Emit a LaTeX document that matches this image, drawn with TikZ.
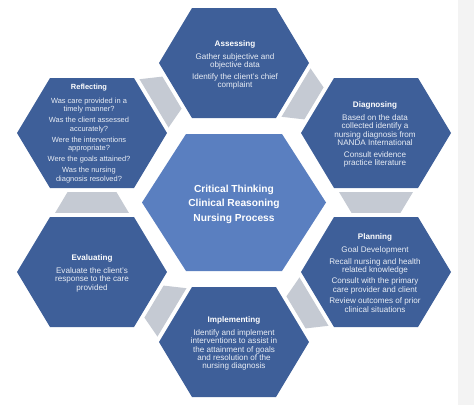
\documentclass[tikz,border=0pt]{standalone}
\usepackage{fontspec}
\setmainfont{Liberation Sans}
\usetikzlibrary{calc}
\definecolor{hexblue}{HTML}{3E5F99}
\definecolor{cenblue}{HTML}{5A7FC0}
\definecolor{trapgray}{HTML}{C5CAD3}
\definecolor{bodytxt}{HTML}{E8EDF5}
\definecolor{sideband}{HTML}{F3F3F3}

\newcommand\mkhex[6]{%
 \coordinate (#1) at (#2,#3);
 \coordinate (#1-1) at (#2+#4,#3);
 \coordinate (#1-2) at (#2+#5,#3+#6);
 \coordinate (#1-3) at (#2-#5,#3+#6);
 \coordinate (#1-4) at (#2-#4,#3);
 \coordinate (#1-5) at (#2-#5,#3-#6);
 \coordinate (#1-6) at (#2+#5,#3-#6);
}
\newcommand\drawhex[2]{\fill[#2] (#1-1)--(#1-2)--(#1-3)--(#1-4)--(#1-5)--(#1-6)--cycle;}
\newcommand\gtrap[3]{%
 \fill[trapfill] ($0.80*(#1) + 0.06*(#2) + 0.14*(#3)$)
   -- ($0.94*(#2) + 0.14*(#3) - 0.08*(#1)$)
   -- ($0.791*(#2) + 0.86*(#3) - 0.651*(#1)$)
   -- ($0.209*(#2) + 0.86*(#3) - 0.069*(#1)$) -- cycle;
}

\begin{document}
\begin{tikzpicture}[x=1pt,y=-1pt,
  outerhex/.style={fill=hexblue},
  centerhex/.style={fill=cenblue},
  trapfill/.style={fill=trapgray},
  hextext/.style={text=white,align=center,font=\fontsize{8.1}{8.4}\selectfont},
  smalltext/.style={text=white,align=center,font=\fontsize{7.45}{8.6}\selectfont},
  centertext/.style={text=white,align=center,font=\fontsize{10.2}{14.5}\selectfont\bfseries}]
\useasboundingbox (0,0) rectangle (474,405);
\fill[sideband] (458,0) rectangle (474,405);

\mkhex{C}{234}{202.5}{92}{48}{68.5}
\mkhex{A}{234}{63}{75}{42}{55}
\mkhex{D}{376}{133}{75}{42}{55}
\mkhex{P}{376}{272}{75}{42}{55}
\mkhex{I}{234}{342}{75}{42}{55}
\mkhex{E}{92}{272}{75}{42}{55}
\mkhex{R}{92}{133}{75}{42}{55}

\drawhex{C}{centerhex}
\drawhex{A}{outerhex}
\drawhex{D}{outerhex}
\drawhex{P}{outerhex}
\drawhex{I}{outerhex}
\drawhex{E}{outerhex}
\drawhex{R}{outerhex}

\gtrap{A-1}{A-2}{D-5}
\gtrap{D-2}{D-3}{P-6}
\gtrap{P-4}{P-3}{I-6}
\gtrap{I-5}{I-4}{E-1}
\gtrap{E-5}{E-6}{R-3}
\gtrap{R-6}{R-1}{A-4}

\node[centertext] (ct) at (234,204) {Critical Thinking\\Clinical Reasoning\\Nursing Process};

\node[hextext] (ta) at (235,65) {\bfseries Assessing\\[4.6pt]\color{bodytxt}Gather subjective and\\\color{bodytxt}objective data\\[3pt]\color{bodytxt}Identify the client's chief\\\color{bodytxt}complaint};

\node[hextext] (td) at (375,134.5) {\bfseries Diagnosing\\[4.6pt]\color{bodytxt}Based on the data\\\color{bodytxt}collected identify a\\\color{bodytxt}nursing diagnosis from\\\color{bodytxt}NANDA International\\[3pt]\color{bodytxt}Consult evidence\\\color{bodytxt}practice literature};

\node[hextext] (tp) at (375,273) {\bfseries Planning\\[4.6pt]\color{bodytxt}Goal Development\\[3pt]\color{bodytxt}Recall nursing and health\\\color{bodytxt}related knowledge\\[3pt]\color{bodytxt}Consult with the primary\\\color{bodytxt}care provider and client\\[3pt]\color{bodytxt}Review outcomes of prior\\\color{bodytxt}clinical situations};

\node[hextext] (ti) at (234,343.5) {\bfseries Implementing\\[4.6pt]\color{bodytxt}Identify and implement\\\color{bodytxt}interventions to assist in\\\color{bodytxt}the attainment of goals\\\color{bodytxt}and resolution of the\\\color{bodytxt}nursing diagnosis};

\node[hextext] (te) at (92,273) {\bfseries Evaluating\\[4.6pt]\color{bodytxt}Evaluate the client's\\\color{bodytxt}response to the care\\\color{bodytxt}provided};

\node[smalltext] (tr) at (89,133.5) {\bfseries Reflecting\\[5.2pt]\color{bodytxt}Was care provided in a\\\color{bodytxt}timely manner?\\[2.4pt]\color{bodytxt}Was the client assessed\\\color{bodytxt}accurately?\\[2.4pt]\color{bodytxt}Were the interventions\\\color{bodytxt}appropriate?\\[2.4pt]\color{bodytxt}Were the goals attained?\\[2.4pt]\color{bodytxt}Was the nursing\\\color{bodytxt}diagnosis resolved?};
\end{tikzpicture}
\end{document}
